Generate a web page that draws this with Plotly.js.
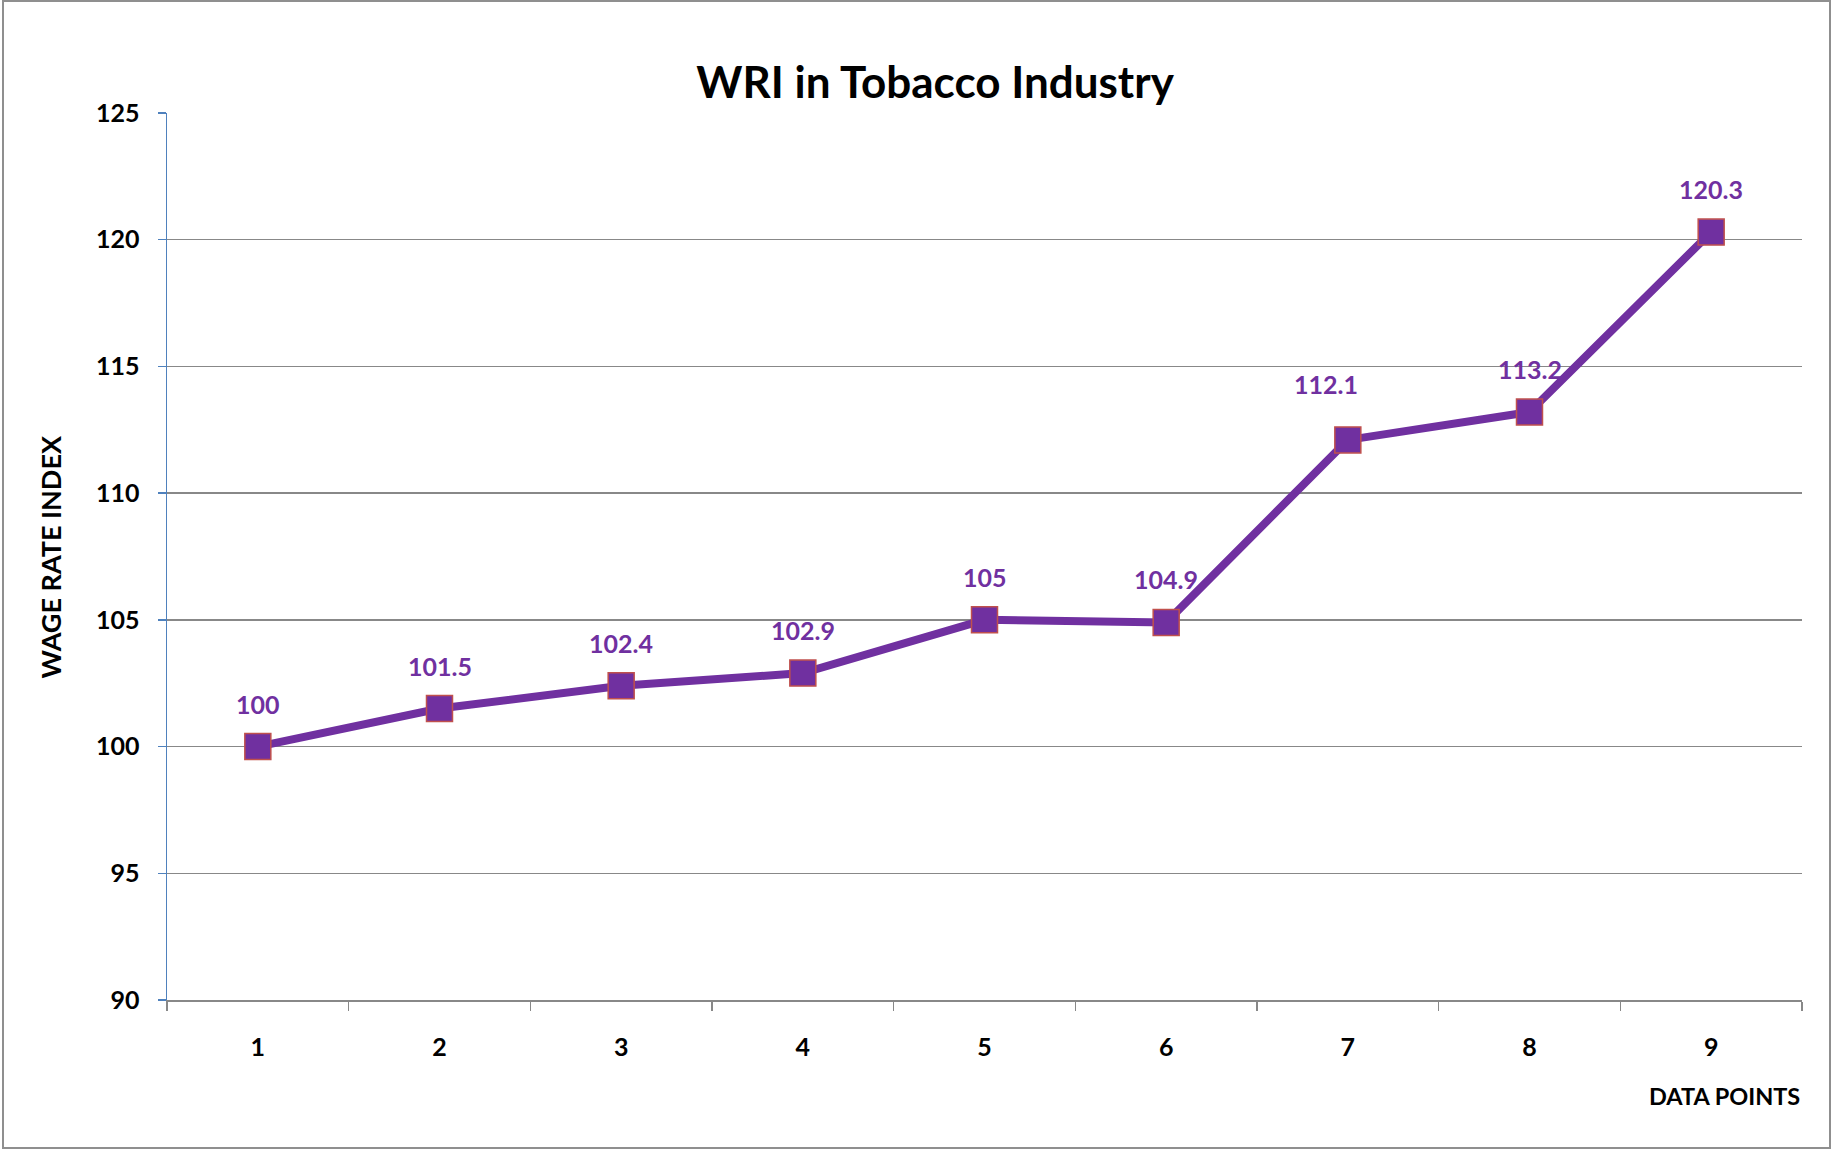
<!DOCTYPE html>
<html>
<head>
<meta charset="utf-8">
<script src="https://cdn.plot.ly/plotly-3.0.1.min.js"></script>
<style>
  html, body { margin: 0; padding: 0; background: #fff; }
  #wrap { position: relative; width: 1831px; height: 1149px; }
  #chart { position: absolute; left: 0; top: 0; width: 1831px; height: 1149px; }
  #frame { position: absolute; left: 2px; top: 0px; width: 1825px; height: 1145px;
           border: 2px solid #8f8f8f; pointer-events: none; }
</style>
</head>
<body>
<div id="wrap">
  <div id="chart"></div>
  <div id="frame"></div>
</div>
<script>
// ---- data ----
const categories = ["1", "2", "3", "4", "5", "6", "7", "8", "9"];
const wri = [100, 101.5, 102.4, 102.9, 105, 104.9, 112.1, 113.2, 120.3];
const labelTexts = ["100", "101.5", "102.4", "102.9", "105", "104.9", "112.1", "113.2", "120.3"];
const yTicks = [90, 95, 100, 105, 110, 115, 120, 125];

// ---- label style offsets (pixels) ----
const labelDx = [0, 0, 0, 0, 0, 0, -22, 0, 0];
const labelDy = [43, 43, 43, 43, 43, 43, 56, 43, 43];

const FONT = "Lato, 'Open Sans', sans-serif";
const PURPLE = "#7030a0";

const trace = {
  type: "scatter",
  mode: "lines+markers",
  x: categories,
  y: wri,
  line: { color: PURPLE, width: 8 },
  marker: { symbol: "square", size: 26, color: PURPLE, line: { color: "#c0504d", width: 1.5 } },
  hoverinfo: "x+y",
  cliponaxis: false
};

// category axis: annotations are positioned by category index
const annotations = categories.map((c, i) => ({
  x: categories.indexOf(c), y: wri[i], xref: "x", yref: "y",
  text: "<b>" + labelTexts[i] + "</b>", showarrow: false,
  xshift: labelDx[i], yshift: labelDy[i],
  xanchor: "center", yanchor: "middle",
  font: { family: FONT, size: 25, color: PURPLE }
}));

annotations.push({
  text: "<b>DATA POINTS</b>", xref: "paper", yref: "paper",
  x: 1.0, y: -0.108, xanchor: "right", yanchor: "middle",
  showarrow: false,
  font: { family: FONT, size: 23.5, color: "#000" }
});
annotations.push({
  text: "<b>WAGE RATE INDEX</b>", xref: "paper", yref: "paper",
  x: -0.071, y: 0.5, xanchor: "center", yanchor: "middle",
  textangle: -90, showarrow: false,
  font: { family: FONT, size: 27, color: "#000" }
});

const layout = {
  width: 1831, height: 1149,
  margin: { l: 167, r: 29, t: 113, b: 149 },
  paper_bgcolor: "#fff", plot_bgcolor: "#fff",
  showlegend: false,
  title: {
    text: "<b>WRI in Tobacco Industry</b>",
    xref: "container", yref: "container",
    x: 0.5107, y: 0.928, xanchor: "center", yanchor: "middle",
    font: { family: FONT, size: 44, color: "#000" }
  },
  xaxis: {
    type: "category",
    categoryorder: "array", categoryarray: categories,
    range: [-0.5, 8.5],
    tickson: "boundaries",
    ticks: "outside", ticklen: 9, tickcolor: "#888", tickwidth: 1.5,
    showline: true, linecolor: "#888", linewidth: 1.5,
    showgrid: false, zeroline: false,
    ticklabelstandoff: 24,
    tickfont: { family: FONT, size: 25, color: "#000", weight: "bold" }
  },
  yaxis: {
    range: [90, 125],
    tickvals: yTicks,
    ticktext: yTicks.map(String),
    ticks: "outside", ticklen: 8, tickcolor: "#4f81bd", tickwidth: 1.5,
    showline: true, linecolor: "#4f81bd", linewidth: 1.5,
    showgrid: true, gridcolor: "#888", gridwidth: 1.5,
    zeroline: false,
    ticklabelstandoff: 13,
    tickfont: { family: FONT, size: 25, color: "#000", weight: "bold" }
  },
  annotations: annotations
};

Plotly.newPlot("chart", [trace], layout, { displayModeBar: false, staticPlot: true });
</script>
</body>
</html>
